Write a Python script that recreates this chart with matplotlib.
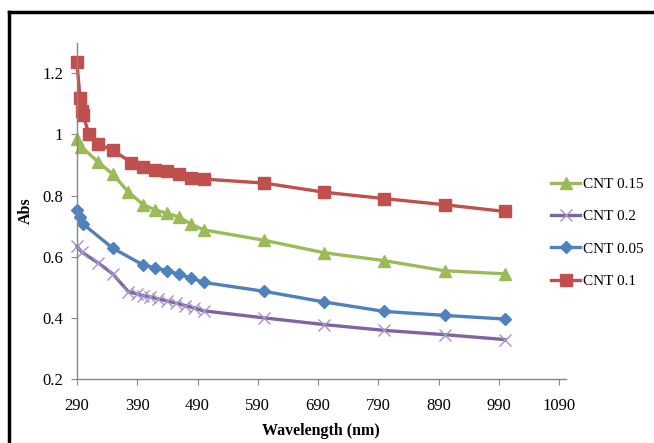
import matplotlib.pyplot as plt
from matplotlib.lines import Line2D

# Absorbance vs wavelength for the CNT samples
wl_015 = [290, 297, 325, 350, 375, 400, 420, 440, 460, 480, 500, 600, 700, 800, 900, 1000]
abs_015 = [0.984, 0.96, 0.91, 0.869, 0.812, 0.77, 0.753, 0.742, 0.729, 0.706, 0.688,
           0.654, 0.613, 0.587, 0.554, 0.544]

wl_02 = [290, 298, 325, 350, 375, 390, 400, 412, 425, 440, 455, 470, 485, 500,
         600, 700, 800, 900, 1000]
abs_02 = [0.634, 0.615, 0.58, 0.543, 0.486, 0.478, 0.473, 0.468, 0.462, 0.455, 0.448,
          0.44, 0.432, 0.423, 0.40, 0.378, 0.359, 0.345, 0.329]

wl_005 = [290, 295, 300, 350, 400, 420, 440, 460, 480, 500, 600, 700, 800, 900, 1000]
abs_005 = [0.753, 0.73, 0.707, 0.627, 0.573, 0.563, 0.554, 0.542, 0.530, 0.516,
           0.487, 0.452, 0.421, 0.408, 0.396]

wl_01 = [290, 295, 298, 300, 310, 325, 350, 380, 400, 420, 440, 460, 480, 500,
         600, 700, 800, 900, 1000]
abs_01 = [1.236, 1.118, 1.075, 1.065, 1.0, 0.968, 0.948, 0.908, 0.895, 0.884, 0.879,
          0.871, 0.858, 0.854, 0.841, 0.811, 0.79, 0.77, 0.748]

x_ticks = [290, 390, 490, 590, 690, 790, 890, 990, 1090]
y_ticks = [0.2, 0.4, 0.6, 0.8, 1.0, 1.2]
y_tick_labels = ["0.2", "0.4", "0.6", "0.8", "1", "1.2"]

plt.rcParams['font.family'] = ['Liberation Serif', 'DejaVu Serif']

fig = plt.figure(figsize=(6.54, 4.43), dpi=100)
ax = fig.add_axes([0.1177, 0.1445, 0.7473, 0.7591])

green = "#9BBB59"
purple = "#8064A2"
blue = "#4F81BD"
red = "#C0504D"

ax.plot(wl_015, abs_015, color=green, linewidth=2.4, marker="^", markersize=8,
        label="CNT 0.15", clip_on=False)
ax.plot(wl_02, abs_02, color=purple, linewidth=2.4, marker="x", markersize=9,
        markeredgecolor="#A593C9", markeredgewidth=1.0, label="CNT 0.2", clip_on=False)
ax.plot(wl_005, abs_005, color=blue, linewidth=2.4, marker="D", markersize=6.5,
        label="CNT 0.05", clip_on=False)
ax.plot(wl_01, abs_01, color=red, linewidth=2.4, marker="s", markersize=8.5,
        label="CNT 0.1", clip_on=False)

ax.set_xlim(290, 1101)
ax.set_ylim(0.2, 1.3)
ax.set_xticks(x_ticks)
ax.set_yticks(y_ticks)
ax.set_yticklabels(y_tick_labels)

for side in ["top", "right"]:
    ax.spines[side].set_visible(False)
for side in ["left", "bottom"]:
    ax.spines[side].set_color("#868686")
    ax.spines[side].set_linewidth(1.0)
ax.tick_params(axis="both", direction="out", colors="#868686", length=4,
               labelsize=12, labelcolor="black")
ax.tick_params(axis="x", pad=10)
ax.tick_params(axis="y", pad=6)

ax.set_xlabel("Wavelength (nm)", fontsize=11.5, fontweight="bold", labelpad=6)
ax.set_ylabel("Abs", fontsize=11.5, fontweight="bold", labelpad=6)

ax.legend(loc="upper left", bbox_to_anchor=(0.97, 0.60), frameon=False,
          fontsize=11, handlelength=1.9, handletextpad=0.2, labelspacing=1.22,
          borderaxespad=0, borderpad=0)

# black outer frame (top and left edges are visible in the original crop)
fig.add_artist(Line2D([0.0138, 1.0], [0.9729, 0.9729], color="black", linewidth=2.5,
                      transform=fig.transFigure))
fig.add_artist(Line2D([0.0138, 0.0138], [0.0, 0.9729], color="black", linewidth=2.5,
                      transform=fig.transFigure))

fig.savefig("out.png", dpi=100)
